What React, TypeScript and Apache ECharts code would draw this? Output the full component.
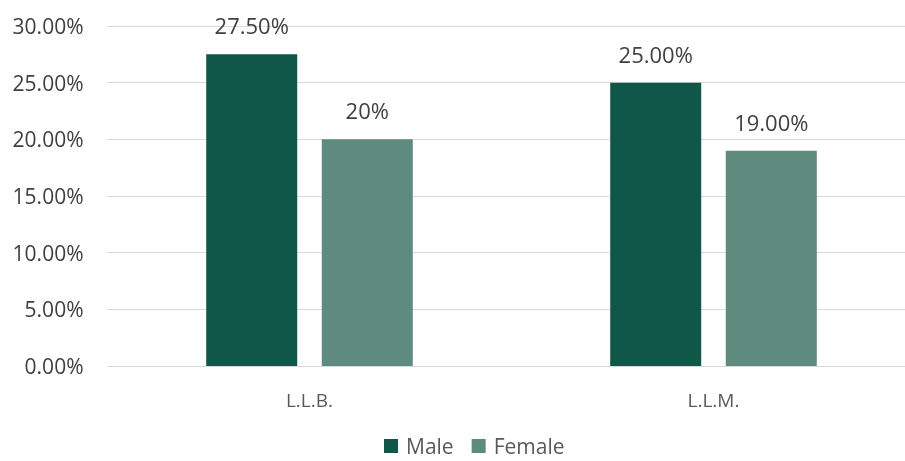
import React, { useEffect, useRef } from "react";
import * as echarts from "echarts";

const categories = ["L.L.B.", "L.L.M."];
const maleValues = [27.5, 25.0];
const femaleValues = [20, 19.0];
const maleLabels = ["27.50%", "25.00%"];
const femaleLabels = ["20%", "19.00%"];
const yTicks = [0, 5, 10, 15, 20, 25, 30];

const FONT = "'Open Sans', 'Noto Sans', sans-serif";

export default function App() {
  const ref = useRef<HTMLDivElement>(null);
  useEffect(() => {
    if (!ref.current) return;
    const chart = echarts.init(ref.current, undefined, { renderer: "svg" });
    chart.setOption({
      animation: false,
      textStyle: { fontFamily: FONT },
      grid: {
        left: 107.5,
        top: 26,
        width: 808,
        height: 340,
        containLabel: false,
        outerBoundsMode: "none",
      },
      legend: {
        top: 435,
        left: 384,
        padding: 0,
        itemWidth: 14,
        itemHeight: 14,
        itemGap: 18,
        icon: "rect",
        textStyle: {
          fontSize: 21,
          lineHeight: 22,
          color: "#595959",
          fontFamily: FONT,
          padding: [0, 0, 0, 3],
        },
        data: ["Male", "Female"],
      },
      xAxis: {
        type: "category",
        data: categories,
        axisLine: { show: false },
        axisTick: { show: false },
        axisLabel: { fontSize: 19, color: "#595959", margin: 24, fontFamily: FONT },
      },
      yAxis: {
        type: "value",
        min: yTicks[0],
        max: yTicks[yTicks.length - 1],
        interval: 5,
        axisLine: { show: false },
        axisTick: { show: false },
        splitLine: { lineStyle: { color: "#d9d9d9", width: 1 } },
        axisLabel: {
          fontSize: 21,
          color: "#404040",
          margin: 24,
          fontFamily: FONT,
          formatter: (v: number) => v.toFixed(2) + "%",
        },
      },
      series: [
        {
          name: "Male",
          type: "bar",
          data: maleValues,
          barWidth: 91,
          barGap: "27%",
          itemStyle: { color: "#10574A" },
          label: {
            show: true,
            position: "top",
            distance: 18,
            fontSize: 22,
            color: "#404040",
            fontFamily: FONT,
            formatter: (p: any) => maleLabels[p.dataIndex],
          },
        },
        {
          name: "Female",
          type: "bar",
          data: femaleValues,
          barWidth: 91,
          itemStyle: { color: "#5F8A7E" },
          label: {
            show: true,
            position: "top",
            distance: 18,
            fontSize: 22,
            color: "#404040",
            fontFamily: FONT,
            formatter: (p: any) => femaleLabels[p.dataIndex],
          },
        },
      ],
    });
    return () => chart.dispose();
  }, []);
  return (
    <div
      ref={ref}
      style={{ position: "fixed", left: 0, top: 0, width: 905, height: 461 }}
    />
  );
}
